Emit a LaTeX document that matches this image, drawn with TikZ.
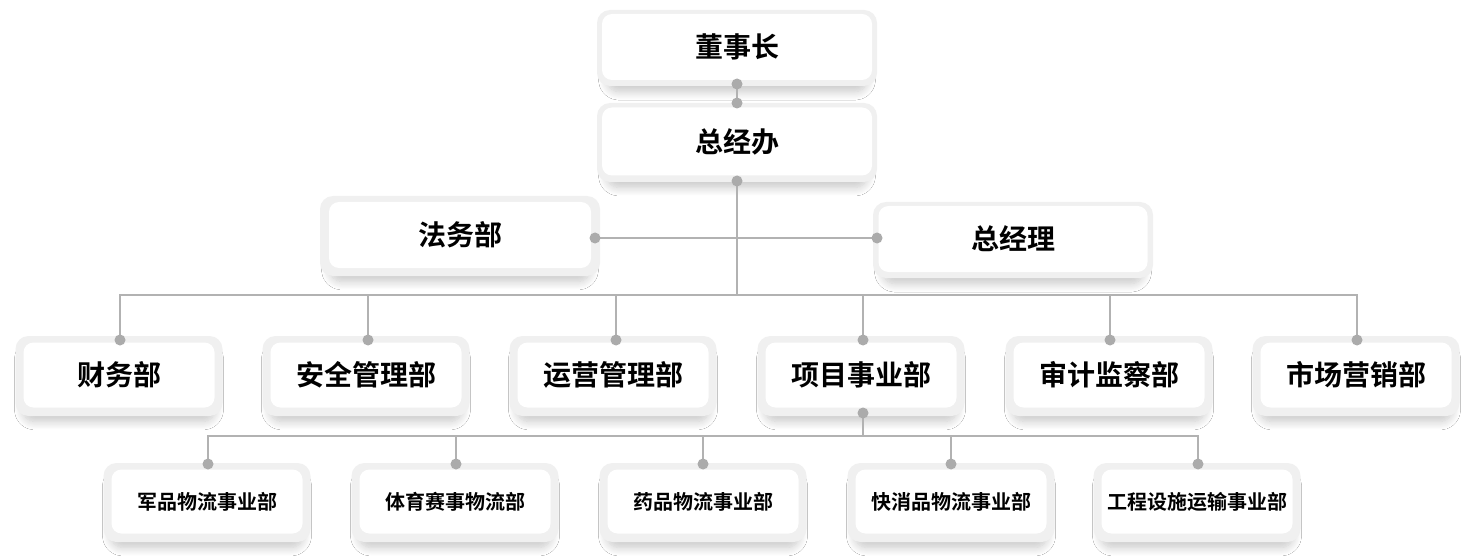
\documentclass[tikz,border=0pt]{standalone}
\usepackage{fontspec}
\newfontfamily\cjk{Noto Sans CJK SC}[BoldFont={Noto Sans CJK SC Bold}]
\usetikzlibrary{shadows.blur}
\definecolor{linegray}{HTML}{B2B2B2}
\definecolor{dotgray}{HTML}{ABABAB}
\definecolor{rimgray}{HTML}{F0F0F0}
\tikzset{
  rim/.style={fill=rimgray, draw=none, rounded corners=13pt, inner sep=0pt,
    blur shadow={shadow xshift=0pt, shadow yshift=-9pt, shadow scale=0.93, shadow blur radius=9pt, shadow blur steps=12, shadow opacity=22}},
  face/.style={fill=white, draw=none, rounded corners=10pt, inner sep=0pt, text=black,
    font=\cjk\bfseries},
  conn/.style={draw=linegray, line width=2pt},
  knob/.style={fill=dotgray, draw=none}
}
\newcommand{\orgbox}[8]{%
  % #1 name, #2 cx, #3 cy, #4 outer w, #5 outer h, #6 inner w, #7 inner h, #8 text/size
  \node[rim, minimum width=#4pt, minimum height=#5pt] (#1) at (#2,#3) {};
  \node[face, minimum width=#6pt, minimum height=#7pt] (#1-in) at (#2,#3-1) {#8};
}
\begin{document}
\begin{tikzpicture}[x=1pt,y=-1pt]
\useasboundingbox (0,0) rectangle (1475,556);
\fill[white] (0,0) rectangle (1475,556);

% top
\orgbox{dsz}{737}{48}{280}{76}{270}{66}{\fontsize{28}{30}\selectfont 董事长}
\orgbox{zjb}{737}{142.5}{280}{79}{270}{68}{\fontsize{28}{30}\selectfont 总经办}
\orgbox{fwb}{460}{236}{280}{80}{262}{66}{\fontsize{28}{30}\selectfont 法务部}
\orgbox{zjl}{1013}{240}{280}{76}{269}{66}{\fontsize{28}{30}\selectfont 总经理}

% level 2
\foreach \n/\x/\t in {cw/119/财务部, aq/366/安全管理部, yy/613/运营管理部, xm/861/项目事业部, sj/1109/审计监察部, sc/1356/市场营销部}{
  \orgbox{\n}{\x}{376}{207}{80}{191}{65}{\fontsize{28}{30}\selectfont \t}
}
% level 3
\foreach \n/\x/\t in {jp/207/军品物流事业部, ty/455/体育赛事物流部, yp/703/药品物流事业部, kx/951/快消品物流事业部, gc/1197/工程设施运输事业部}{
  \orgbox{\n}{\x}{502.5}{207}{79}{191}{64}{\fontsize{20}{22}\selectfont \t}
}

% anchor points
\coordinate (dsz-b) at (737,84);
\coordinate (zjb-t) at (737,103);
\coordinate (zjb-b) at (737,181);
\coordinate (fwb-r) at (595,238);
\coordinate (zjl-l) at (877,238);
\coordinate (bus1) at (737,295);
\foreach \n/\x in {cw/120, aq/368, yy/616, xm/863, sj/1110, sc/1357}{
  \coordinate (\n-t) at (\x,340);
}
\coordinate (xm-b) at (863,413);
\coordinate (bus2) at (863,436);
\foreach \n/\x in {jp/208, ty/456, yp/703, kx/951, gc/1198}{
  \coordinate (\n-t) at (\x,464);
}

% connectors
\draw[conn] (dsz-b) -- (zjb-t);
\draw[conn] (zjb-b) -- (bus1);
\draw[conn] (fwb-r) -- (zjl-l);
\foreach \n in {cw, aq, yy, xm, sj, sc}{
  \draw[conn] (bus1) -| (\n-t);
}
\draw[conn] (xm-b) -- (bus2);
\foreach \n in {jp, ty, yp, kx, gc}{
  \draw[conn] (bus2) -| (\n-t);
}

% dots
\foreach \p in {dsz-b, zjb-t, zjb-b, fwb-r, zjl-l, cw-t, aq-t, yy-t, xm-t, sj-t, sc-t, xm-b, jp-t, ty-t, yp-t, kx-t, gc-t}{
  \fill[knob] (\p) circle (5.5);
}
\end{tikzpicture}
\end{document}
